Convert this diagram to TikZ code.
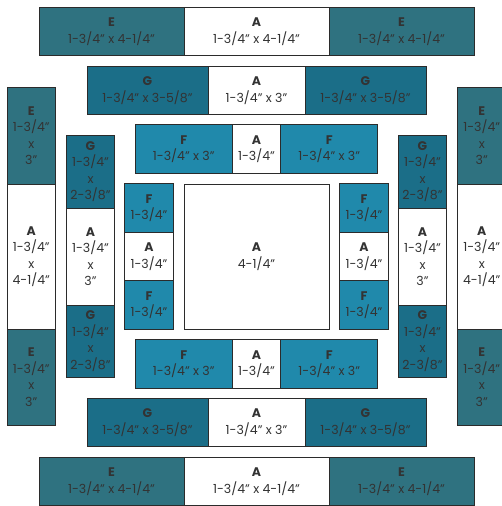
\documentclass[tikz,border=0pt]{standalone}
\usepackage{fontspec}
\setmainfont{Poppins}
\usepackage{tikz}
\usetikzlibrary{positioning}
\definecolor{tealE}{HTML}{2F7280}
\definecolor{tealG}{HTML}{1B6E88}
\definecolor{tealF}{HTML}{2089AB}
\definecolor{ink}{HTML}{333333}
\definecolor{edge}{HTML}{2B2B2B}

\tikzset{
  piece/.style={draw=edge,line width=0.9pt,inner sep=0pt,outer sep=0pt,
    align=center,text=ink,font=\fontsize{12.5}{16.5}\selectfont},
  pcE/.style={piece,fill=tealE},
  pcG/.style={piece,fill=tealG},
  pcF/.style={piece,fill=tealF},
  pcA/.style={piece,fill=white},
  sz/.style 2 args={minimum width=#1pt,minimum height=#2pt},
}

\begin{document}
\begin{tikzpicture}[x=1pt,y=-1pt]
  \useasboundingbox[fill=white] (0,0) rectangle (502,506);
  \clip (0,0) rectangle (502,506);

  % centre square
  \node[pcA,sz={145}{145}] (mid) at (256.5,256.5) {\textbf{A}\\4-1/4"};

  % top rows
  \node[pcA,sz={145}{48.5}] (t1A) at (256.5,31.5) {\textbf{A}\\1-3/4" x 4-1/4"};
  \node[pcE,sz={145}{48.5},left=0pt of t1A] (t1L) {\textbf{E}\\1-3/4" x 4-1/4"};
  \node[pcE,sz={145}{48.5},right=0pt of t1A] (t1R) {\textbf{E}\\1-3/4" x 4-1/4"};

  \node[pcA,sz={97}{48.5}] (t2A) at (256.5,90.5) {\textbf{A}\\1-3/4" x 3"};
  \node[pcG,sz={121}{48.5},left=0pt of t2A] (t2L) {\textbf{G}\\1-3/4" x 3-5/8"};
  \node[pcG,sz={121}{48.5},right=0pt of t2A] (t2R) {\textbf{G}\\1-3/4" x 3-5/8"};

  \node[pcA,sz={48.5}{48.5}] (t3A) at (256.5,149) {\textbf{A}\\1-3/4"};
  \node[pcF,sz={97}{48.5},left=0pt of t3A] (t3L) {\textbf{F}\\1-3/4" x 3"};
  \node[pcF,sz={97}{48.5},right=0pt of t3A] (t3R) {\textbf{F}\\1-3/4" x 3"};

  % bottom rows
  \node[pcA,sz={48.5}{48.5}] (b3A) at (256.5,364) {\textbf{A}\\1-3/4"};
  \node[pcF,sz={97}{48.5},left=0pt of b3A] (b3L) {\textbf{F}\\1-3/4" x 3"};
  \node[pcF,sz={97}{48.5},right=0pt of b3A] (b3R) {\textbf{F}\\1-3/4" x 3"};

  \node[pcA,sz={97}{48.5}] (b2A) at (256.5,422.5) {\textbf{A}\\1-3/4" x 3"};
  \node[pcG,sz={121}{48.5},left=0pt of b2A] (b2L) {\textbf{G}\\1-3/4" x 3-5/8"};
  \node[pcG,sz={121}{48.5},right=0pt of b2A] (b2R) {\textbf{G}\\1-3/4" x 3-5/8"};

  \node[pcA,sz={145}{48.5}] (b1A) at (256.5,481.5) {\textbf{A}\\1-3/4" x 4-1/4"};
  \node[pcE,sz={145}{48.5},left=0pt of b1A] (b1L) {\textbf{E}\\1-3/4" x 4-1/4"};
  \node[pcE,sz={145}{48.5},right=0pt of b1A] (b1R) {\textbf{E}\\1-3/4" x 4-1/4"};

  % left columns
  \node[pcA,sz={48.5}{145}] (l1A) at (31.25,256.5) {\textbf{A}\\1-3/4"\\x\\4-1/4"};
  \node[pcE,sz={48.5}{96.5},above=0pt of l1A] (l1T) {\textbf{E}\\1-3/4"\\x\\3"};
  \node[pcE,sz={48.5}{96.5},below=0pt of l1A] (l1B) {\textbf{E}\\1-3/4"\\x\\3"};

  \node[pcA,sz={48.5}{97}] (l2A) at (90.5,256.5) {\textbf{A}\\1-3/4"\\x\\3"};
  \node[pcG,sz={48.5}{72.5},above=0pt of l2A] (l2T) {\textbf{G}\\1-3/4"\\x\\2-3/8"};
  \node[pcG,sz={48.5}{72.5},below=0pt of l2A] (l2B) {\textbf{G}\\1-3/4"\\x\\2-3/8"};

  \node[pcA,sz={48.5}{48.5}] (l3A) at (149,256.5) {\textbf{A}\\1-3/4"};
  \node[pcF,sz={48.5}{48.5},above=0pt of l3A] (l3T) {\textbf{F}\\1-3/4"};
  \node[pcF,sz={48.5}{48.5},below=0pt of l3A] (l3B) {\textbf{F}\\1-3/4"};

  % right columns
  \node[pcA,sz={48.5}{48.5}] (r3A) at (364,256.5) {\textbf{A}\\1-3/4"};
  \node[pcF,sz={48.5}{48.5},above=0pt of r3A] (r3T) {\textbf{F}\\1-3/4"};
  \node[pcF,sz={48.5}{48.5},below=0pt of r3A] (r3B) {\textbf{F}\\1-3/4"};

  \node[pcA,sz={48.5}{97}] (r2A) at (422.5,256.5) {\textbf{A}\\1-3/4"\\x\\3"};
  \node[pcG,sz={48.5}{72.5},above=0pt of r2A] (r2T) {\textbf{G}\\1-3/4"\\x\\2-3/8"};
  \node[pcG,sz={48.5}{72.5},below=0pt of r2A] (r2B) {\textbf{G}\\1-3/4"\\x\\2-3/8"};

  \node[pcA,sz={48.5}{145}] (r1A) at (481.75,256.5) {\textbf{A}\\1-3/4"\\x\\4-1/4"};
  \node[pcE,sz={48.5}{96.5},above=0pt of r1A] (r1T) {\textbf{E}\\1-3/4"\\x\\3"};
  \node[pcE,sz={48.5}{96.5},below=0pt of r1A] (r1B) {\textbf{E}\\1-3/4"\\x\\3"};
\end{tikzpicture}
\end{document}
